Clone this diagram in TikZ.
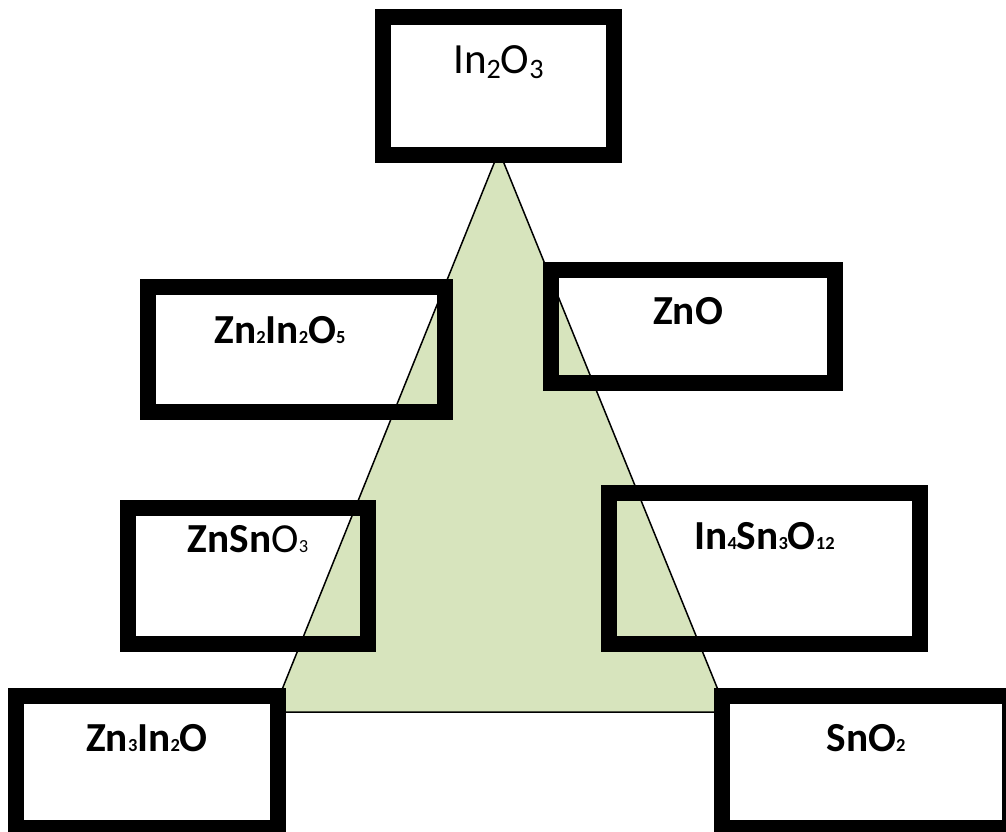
\documentclass[tikz,border=0pt]{standalone}
\usepackage{fontspec}
\setmainfont{Carlito}
\usetikzlibrary{calc}
\definecolor{phasegreen}{HTML}{D7E4BD}
\tikzstyle{phasebox} = [rectangle, 
draw=black, 
line width=0.32cm, 
inner sep=0pt]
\tikzstyle{formula} = [font=\fontsize{23.5}{23.5}\selectfont\bfseries, anchor=base, inner sep=0pt]
% small digits on the baseline, and lowered ones for the plain label
\newcommand{\tsub}[1]{{\fontsize{10.5}{10.5}\selectfont #1}}
\newcommand{\lsub}[1]{\raisebox{-0.1cm}{\fontsize{16}{16}\selectfont #1}}

\begin{document}
\begin{tikzpicture}
    \clip (0,0) rectangle (20.12,-16.64);

    % Ternary triangle
    \coordinate (apex) at (9.98,-3.02);
    \coordinate (bl) at (5.46,-14.24);
    \coordinate (br) at (14.54,-14.24);
    \draw [fill=phasegreen, line width=0.03cm] (apex) -- (bl) -- (br) -- cycle;

    % Phase boxes
    \node (in2o3) [phasebox, minimum width=4.62cm, minimum height=2.76cm] at (9.97,-1.72) {};
    \node (zn2in2o5) [phasebox, minimum width=5.94cm, minimum height=2.5cm] at (5.93,-6.99) {};
    \node (zno) [phasebox, minimum width=5.68cm, minimum height=2.26cm] at (13.86,-6.53) {};
    \node (znsno3) [phasebox, minimum width=4.8cm, minimum height=2.72cm] at (4.96,-11.52) {};
    \node (in4sn3o12) [phasebox, minimum width=6.22cm, minimum height=3.02cm] at (15.29,-11.37) {};
    \node (zn3in2o) [phasebox, minimum width=5.24cm, minimum height=2.64cm] at (2.94,-15.24) {};
    \node (sno2) [phasebox, minimum width=5.76cm, minimum height=2.64cm] at (17.32,-15.24) {};

    % Formulas
    \node (in2o3t) [formula, font=\fontsize{24.5}{24.5}\selectfont] at ([yshift=-1.3cm]in2o3.north) {In\lsub{2}O\lsub{3}};
    \node (zn2in2o5t) [formula] at ([xshift=-0.33cm, yshift=-1.3cm]zn2in2o5.north) {Zn\tsub{2}In\tsub{2}O\tsub{5}};
    \node (znot) [formula] at ([xshift=-0.1cm, yshift=-1.26cm]zno.north) {ZnO};
    \node (znsno3t) [formula] at ([yshift=-1.06cm]znsno3.north) {ZnSn{\mdseries O\tsub{3}}};
    \node (in4sn3o12t) [formula] at ([yshift=-1.3cm]in4sn3o12.north) {In\tsub{4}Sn\tsub{3}O\tsub{12}};
    \node (zn3in2ot) [formula] at ([yshift=-1.26cm]zn3in2o.north) {Zn\tsub{3}In\tsub{2}O};
    \node (sno2t) [formula] at ([yshift=-1.26cm]sno2.north) {SnO\tsub{2}};
\end{tikzpicture}
\end{document}
